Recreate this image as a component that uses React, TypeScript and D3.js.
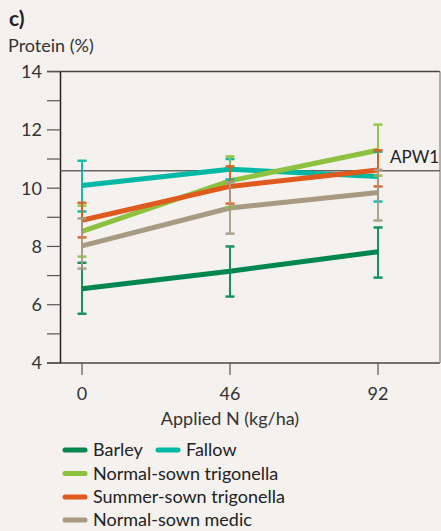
import React from "react";
import * as d3 from "d3";

const nRates = [0, 46, 92];
const seriesNames = ["Barley", "Fallow", "Normal-sown trigonella", "Summer-sown trigonella", "Normal-sown medic"];
const seriesColors = ["#00874f", "#00b8a4", "#8cc23f", "#e05a1e", "#a89a82"];
const barley = [6.55, 7.15, 7.82];
const barleyLo = [5.69, 6.28, 6.93];
const barleyHi = [7.44, 8.0, 8.65];
const fallow = [10.09, 10.65, 10.4];
const fallowLo = [9.2, 10.3, 9.54];
const fallowHi = [10.94, 11.0, 11.25];
const normalTrig = [8.52, 10.25, 11.3];
const normalTrigLo = [7.65, 9.34, 10.43];
const normalTrigHi = [9.4, 11.09, 12.18];
const summerTrig = [8.9, 10.06, 10.62];
const summerTrigLo = [8.31, 9.47, 10.06];
const summerTrigHi = [9.5, 10.75, 11.3];
const medic = [8.02, 9.32, 9.85];
const medicLo = [7.24, 8.44, 8.89];
const medicHi = [8.96, 10.2, 10.63];
const yTicks = [4, 5, 6, 7, 8, 9, 10, 11, 12, 13, 14];
const yLabels = [4, 6, 8, 10, 12, 14];
const apw1 = 10.6;

const W = 441, H = 531;
const FONT = "Lato, 'Open Sans', sans-serif";

export default function App() {
  const x = d3.scaleLinear().domain([0, 92]).range([82, 378]);
  const y = d3.scaleLinear().domain([4, 14]).range([363, 71.6]);
  const left = 60.5, right = 440, top = y(14), bottom = y(4);
  const series = [
    { v: barley, lo: barleyLo, hi: barleyHi },
    { v: fallow, lo: fallowLo, hi: fallowHi },
    { v: normalTrig, lo: normalTrigLo, hi: normalTrigHi },
    { v: summerTrig, lo: summerTrigLo, hi: summerTrigHi },
    { v: medic, lo: medicLo, hi: medicHi },
  ];
  const line = d3.line<number>().x((_, i) => x(nRates[i])).y((d) => y(d));
  const legendPos = [
    { x: 63, y: 450 },
    { x: 156, y: 450 },
    { x: 63, y: 473.5 },
    { x: 63, y: 497 },
    { x: 63, y: 520 },
  ];
  return (
    <svg width={W} height={H} style={{ position: "absolute", left: 0, top: 0, background: "#f4f1ee" }} fontFamily={FONT}>
      <rect x={0} y={0} width={W} height={H} fill="#f4f1ee" />
      <text x={9} y={26} fontSize={21} fontWeight="bold" fill="#222">c)</text>
      <text x={8} y={52} fontSize={18} fill="#333">Protein (%)</text>
      {/* frame */}
      <line x1={47} x2={right} y1={top} y2={top} stroke="#444" strokeWidth={1.5} />
      <line x1={47} x2={right} y1={bottom} y2={bottom} stroke="#444" strokeWidth={1.5} />
      <line x1={left} x2={left} y1={top} y2={bottom} stroke="#222" strokeWidth={1.5} />
      <line x1={right} x2={right} y1={top} y2={bottom} stroke="#999" strokeWidth={1.5} />
      {yTicks.map((t) => (
        <line key={t} x1={47} x2={left} y1={y(t)} y2={y(t)} stroke="#555" strokeWidth={1.2} />
      ))}
      {yLabels.map((t) => (
        <text key={t} x={42} y={y(t)} dy="0.36em" textAnchor="end" fontSize={18} fill="#333">{t}</text>
      ))}
      {nRates.map((t) => (
        <g key={t}>
          <line x1={x(t)} x2={x(t)} y1={bottom} y2={bottom + 12} stroke="#555" strokeWidth={1.2} />
          <text x={x(t)} y={bottom + 37} textAnchor="middle" fontSize={18} fill="#333">{t}</text>
        </g>
      ))}
      <text x={(x(0) + x(92)) / 2} y={425} textAnchor="middle" fontSize={18} fill="#333">Applied N (kg/ha)</text>
      {/* APW1 */}
      <line x1={left} x2={right} y1={y(apw1)} y2={y(apw1)} stroke="#666" strokeWidth={1.5} />
      <text x={390} y={y(apw1) - 8} fontSize={17} fill="#222">APW1</text>
      {/* lines */}
      {series.map((s, si) => (
        <path key={si} d={line(s.v) || ""} fill="none" stroke={seriesColors[si]} strokeWidth={5} strokeLinejoin="round" />
      ))}
      {/* error bars */}
      {series.map((s, si) => (
        <g key={si} stroke={seriesColors[si]} strokeWidth={2} opacity={0.9}>
          {nRates.map((n, i) => (
            <g key={i}>
              <line x1={x(n)} x2={x(n)} y1={y(s.lo[i])} y2={y(s.hi[i])} />
              <line x1={x(n) - 4.5} x2={x(n) + 4.5} y1={y(s.lo[i])} y2={y(s.lo[i])} strokeWidth={2.5} />
              <line x1={x(n) - 4.5} x2={x(n) + 4.5} y1={y(s.hi[i])} y2={y(s.hi[i])} strokeWidth={2.5} />
            </g>
          ))}
        </g>
      ))}
      {/* legend */}
      {seriesNames.map((name, i) => (
        <g key={name}>
          <line x1={legendPos[i].x + 2} x2={legendPos[i].x + 22} y1={legendPos[i].y} y2={legendPos[i].y} stroke={seriesColors[i]} strokeWidth={5} strokeLinecap="round" />
          <text x={legendPos[i].x + 30} y={legendPos[i].y} dy="0.36em" fontSize={18} fill="#222">{name}</text>
        </g>
      ))}
    </svg>
  );
}
